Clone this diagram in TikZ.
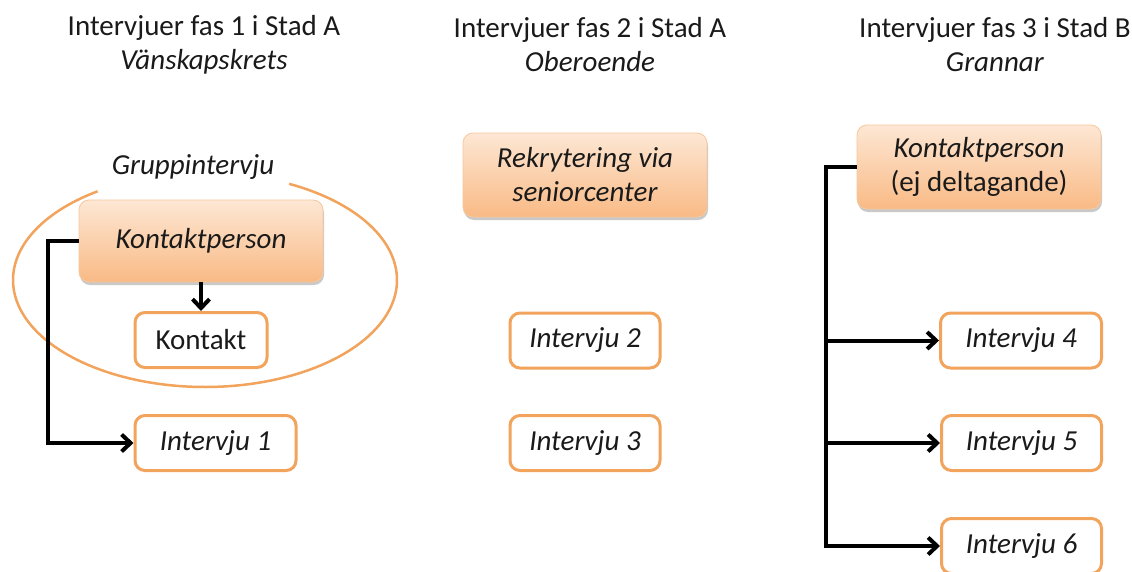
\documentclass[tikz,border=0pt]{standalone}
\usepackage{fontspec}
\setmainfont{Carlito}
\usetikzlibrary{arrows.meta,shadows,calc}
\definecolor{ora}{HTML}{F2A35C}
\definecolor{oratop}{HTML}{FDE7D4}
\definecolor{orabot}{HTML}{F9BA85}
\definecolor{ink}{HTML}{1A1A1A}
\tikzset{
  txt/.style={font=\fontsize{29}{34}\selectfont},
  heading/.style={txt, text=ink, align=center},
  filledbox/.style={txt, draw=ora!60, line width=0.8pt, rounded corners=10pt,
    top color=oratop, bottom color=orabot, text=ink, align=center,
    minimum width=244pt,
    drop shadow={shadow xshift=1pt, shadow yshift=-3pt, opacity=0.35, fill=black!60}},
  plainbox/.style={txt, draw=ora, line width=3pt, rounded corners=10pt, fill=white,
    text=ink, minimum height=55pt},
  link/.style={line width=4pt, draw=black, line join=miter},
  linkarrow/.style={link, -{Straight Barb[length=9pt,width=17pt,line width=4pt]}}
}
\begin{document}
\begin{tikzpicture}[x=1pt,y=-1pt]
\useasboundingbox[fill=white] (0,0) rectangle (1132,571);

% column headings
\node[heading] (h1) at (204,45) {Intervjuer fas 1 i Stad A\\ \textit{Vänskapskrets}};
\node[heading] (h2) at (590,45) {Intervjuer fas 2 i Stad A\\ \textit{Oberoende}};
\node[heading] (h3) at (995,45) {Intervjuer fas 3 i Stad B\\ \textit{Grannar}};

% phase 1: group interview
\draw[ora, line width=2.5pt] plot[domain=124:424, samples=120, smooth]
  ({205+192*cos(\x)}, {280-107*sin(\x)});
\node[heading, font=\fontsize{29}{34}\selectfont\itshape] (grp) at (193,167) {Gruppintervju};
\node[filledbox, minimum height=82pt] (kp1) at (201,241) {\textit{Kontaktperson}};
\node[plainbox, minimum width=132pt] (kon) at (201,340) {Kontakt};
\node[plainbox, minimum width=161pt] (iv1) at (215.5,443) {\textit{Intervju 1}};
\draw[linkarrow] (kp1.south) -- (kon.north);
\draw[linkarrow] (kp1.west) -- ++(-31,0) |- (iv1.west);

% phase 2: independent
\node[filledbox, minimum height=84pt] (rek) at (585,175) {\textit{Rekrytering via}\\ \textit{seniorcenter}};
\node[plainbox, minimum width=150pt] (iv2) at (585,340.5) {\textit{Intervju 2}};
\node[plainbox, minimum width=150pt] (iv3) at (585,443) {\textit{Intervju 3}};

% phase 3: neighbours
\node[filledbox, minimum height=84pt] (kp3) at (979,167) {\textit{Kontaktperson}\\ (ej deltagande)};
\node[plainbox, minimum width=161pt] (iv4) at (1021,340.5) {\textit{Intervju 4}};
\node[plainbox, minimum width=160pt] (iv5) at (1021.5,443) {\textit{Intervju 5}};
\node[plainbox, minimum width=160pt] (iv6) at (1021.5,546) {\textit{Intervju 6}};
\draw[linkarrow] (kp3.west) -- ++(-31,0) coordinate (trunk) |- (iv6.west);
\draw[linkarrow] (trunk |- iv4.west) -- (iv4.west);
\draw[linkarrow] (trunk |- iv5.west) -- (iv5.west);
\end{tikzpicture}
\end{document}
